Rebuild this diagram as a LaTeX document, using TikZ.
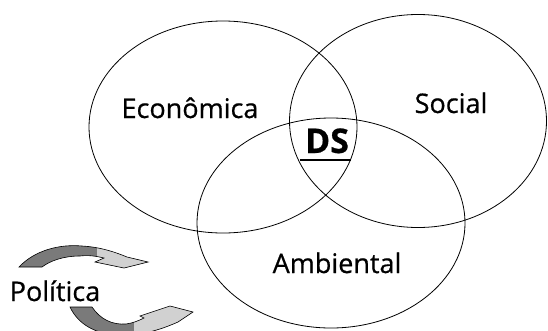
\documentclass[tikz,border=0pt]{standalone}
\usepackage{fontspec}
\setmainfont{Open Sans}[FakeBold=0.6]
\usetikzlibrary{shapes.geometric}
\definecolor{banddark}{gray}{0.48}
\definecolor{bandlight}{gray}{0.82}
% outlines of the two curved arrows (1pt = 1px, y downwards)
\newcommand{\upperarrow}{(19,267) .. controls (35,250) and (60,244) .. (82,246)
  .. controls (100,247) and (115,252) .. (127,257) -- (148,262) -- (124,268)
  -- (95,262) -- (104,258) .. controls (96,256) and (88,255) .. (80,256)
  .. controls (63,256) and (50,261) .. (42,267) -- cycle}
\newcommand{\lowerarrow}{(70,307) -- (92,307) .. controls (100,319) and (112,325) .. (126,324)
  .. controls (133,323) and (138,321) .. (144,318) -- (140,316) -- (170,306)
  -- (193,312) -- (178,322) .. controls (160,330) and (140,336) .. (118,335)
  .. controls (95,334) and (78,324) .. (70,307) -- cycle}

\begin{document}
\begin{tikzpicture}[x=1pt, y=-1pt,
    sphere/.style={draw, ellipse, line width=0.8pt, inner sep=0pt},
    lbl/.style={font=\fontsize{27}{30}\selectfont, anchor=base, inner sep=0pt},
    band/.style={draw, line width=0.6pt}
]
\useasboundingbox (0,0) rectangle (548,330);
\clip (0,0) rectangle (548,330);

\node[sphere, minimum width=268pt, minimum height=212pt] (eco) at (223,127) {};
\node[sphere, minimum width=257pt, minimum height=213pt] (soc) at (418,121) {};
\node[sphere, minimum width=268pt, minimum height=210pt] (amb) at (331,223) {};

\node[lbl] (ecolbl) at (190,118) {Econômica};
\node[lbl] (soclbl) at (451,113) {Social};
\node[lbl] (amblbl) at (337,273) {Ambiental};
\node[lbl] (pollbl) at (55,301) {Política};
\node[lbl, font=\fontsize{34}{38}\selectfont\bfseries] (ds) at (327,153) {DS};
\draw[line width=2pt] (300,160) -- (351,160);

% curved arrows
\fill[banddark] \upperarrow;
\fill[banddark] \lowerarrow;
\begin{scope}
  \clip (97,0) rectangle (548,330);
  \fill[bandlight] \upperarrow;
\end{scope}
\begin{scope}
  \clip (134,0) rectangle (548,330);
  \fill[bandlight] \lowerarrow;
\end{scope}
\draw[band] \upperarrow;
\draw[band] \lowerarrow;
\end{tikzpicture}
\end{document}
